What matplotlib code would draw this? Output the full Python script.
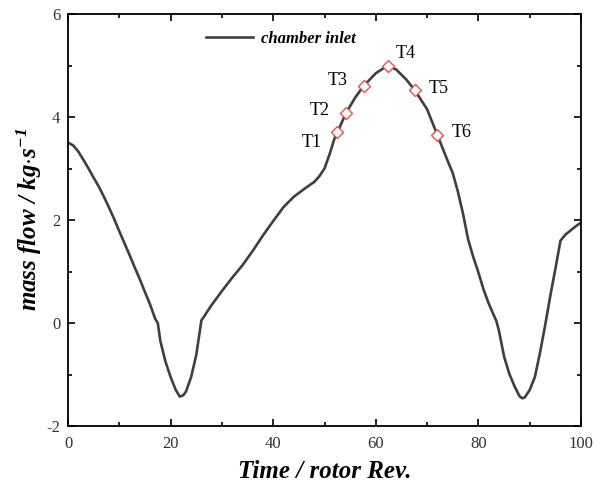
import matplotlib
matplotlib.use("Agg")
import matplotlib.pyplot as plt
from matplotlib.ticker import MultipleLocator

plt.rcParams['font.family'] = ['Liberation Serif', 'DejaVu Serif']
plt.rcParams['axes.unicode_minus'] = False
plt.rcParams['mathtext.fontset'] = 'custom'
plt.rcParams['mathtext.rm'] = 'Liberation Serif:italic:bold'
plt.rcParams['mathtext.it'] = 'Liberation Serif:italic:bold'
plt.rcParams['mathtext.bf'] = 'Liberation Serif:bold'

# mass flow at chamber inlet
time = [0, 1, 2, 3, 4, 5, 6, 7, 8, 9, 10, 11, 12, 13, 14, 15, 16, 17, 17.5,
        18, 19, 20, 21, 21.8, 22.5, 23, 24, 25, 26, 26.5, 27, 28, 30, 32, 34,
        36, 38, 40, 42, 44, 46, 48, 49, 50, 51, 52, 52.5, 54.2, 56, 57.6, 60,
        62.3, 64, 66, 67.6, 70, 72, 74, 75, 76, 77, 78, 79, 80, 81, 82, 83,
        83.5, 84, 85, 86, 87, 88, 88.5, 89, 90, 91, 92, 93, 94, 95, 96, 97,
        98, 99, 100]
flow = [3.50, 3.45, 3.33, 3.17, 3.00, 2.82, 2.65, 2.45, 2.24, 2.02, 1.78,
        1.55, 1.32, 1.08, 0.85, 0.60, 0.36, 0.08, 0.00, -0.35, -0.75, -1.05,
        -1.30, -1.43, -1.40, -1.33, -1.05, -0.62, 0.05, 0.12, 0.20, 0.35,
        0.62, 0.88, 1.12, 1.40, 1.70, 1.98, 2.25, 2.45, 2.60, 2.74, 2.85,
        3.00, 3.28, 3.60, 3.70, 4.08, 4.38, 4.60, 4.85, 5.00, 4.92, 4.72,
        4.52, 4.15, 3.65, 3.15, 2.91, 2.55, 2.12, 1.62, 1.28, 0.98, 0.65,
        0.38, 0.15, 0.04, -0.15, -0.65, -0.98, -1.22, -1.42, -1.46, -1.45,
        -1.30, -1.05, -0.58, -0.05, 0.52, 1.05, 1.60, 1.72, 1.80, 1.88, 1.95]

# sampled instants
t_labels = ['T1', 'T2', 'T3', 'T4', 'T5', 'T6']
t_x = [52.5, 54.2, 57.6, 62.3, 67.6, 72.0]
t_y = [3.70, 4.08, 4.60, 5.00, 4.52, 3.65]

fig = plt.figure(figsize=(5.95, 4.93), dpi=100)
ax = fig.add_axes([0.1143, 0.1359, 0.8622, 0.8357])

ax.plot(time, flow, color='#3f3f3f', lw=1.9, label='chamber inlet')
ax.plot(t_x, t_y, ls='none', marker='D', ms=6, mfc='white',
        mec='#e8504f', mew=1.0)

offsets = [(-26, -7), (-26, 2), (-26, 4), (6, 9), (10, 1), (10, 2)]
for lab, x, y, off in zip(t_labels, t_x, t_y, offsets):
    ax.annotate(lab, (x, y), xytext=off, textcoords='offset points',
                fontsize=13, ha='left', va='center')

ax.set_xlim(0, 100)
ax.set_ylim(-2, 6)
ax.xaxis.set_major_locator(MultipleLocator(20))
ax.xaxis.set_minor_locator(MultipleLocator(10))
ax.yaxis.set_major_locator(MultipleLocator(2))
ax.yaxis.set_minor_locator(MultipleLocator(1))
ax.tick_params(which='both', direction='in', top=True, right=True,
               labelsize=12, width=1.2, labelcolor='#333333')
ax.tick_params(which='major', length=5)
ax.tick_params(which='minor', length=3)
ax.tick_params(axis='x', which='major', pad=7)
ax.tick_params(axis='y', which='major', pad=5.5)
for s in ax.spines.values():
    s.set_linewidth(1.3)

ax.set_xlabel('Time / rotor Rev.', fontsize=18, fontweight='bold',
              fontstyle='italic', labelpad=6)
ax.set_ylabel('mass flow / kg$\\cdot$s$^{-1}$', fontsize=18,
              fontweight='bold', fontstyle='italic', labelpad=2)

leg = ax.legend(loc='upper left', bbox_to_anchor=(0.24, 0.995), frameon=False,
                handlelength=2.8, handletextpad=0.5,
                prop={'size': 12, 'weight': 'bold', 'style': 'italic'})

fig.savefig('out.png', dpi=100)
